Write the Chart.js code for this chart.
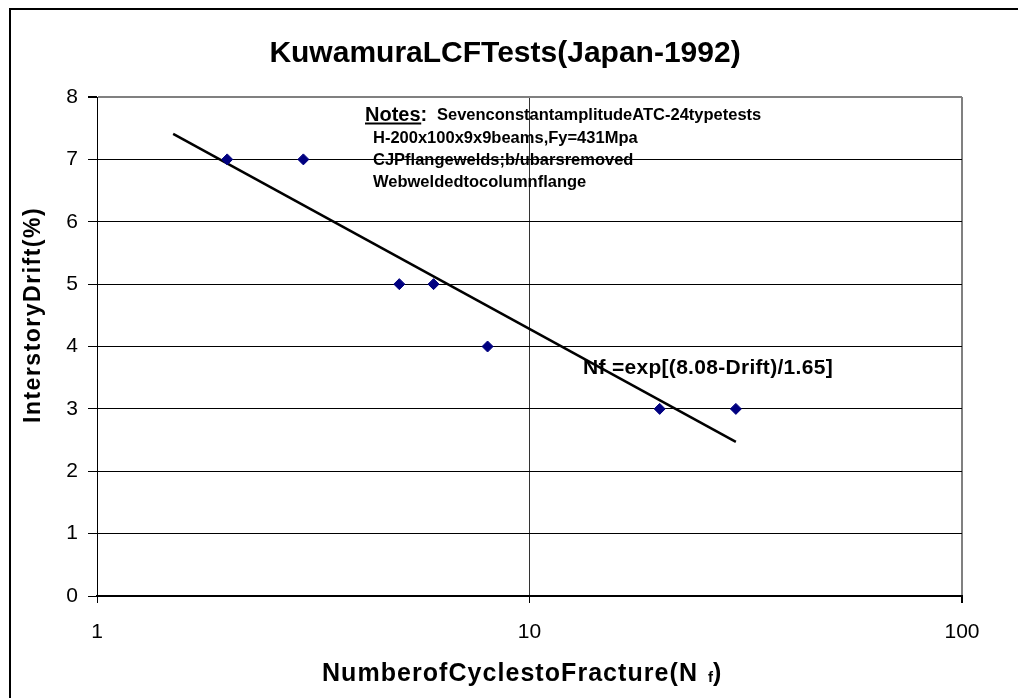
<!DOCTYPE html>
<html>
<head>
<meta charset="utf-8">
<script src="https://cdn.jsdelivr.net/npm/chart.js@4/dist/chart.umd.min.js"></script>
<style>
  html, body { margin: 0; padding: 0; background: #fff; }
  #wrap { width: 1018px; height: 698px; }
</style>
</head>
<body>
<div id="wrap"><canvas id="lcfChart" width="1018" height="698"></canvas></div>
<script>
// test data (Kuwamura 1992)
const cycles = [2, 3, 5, 6, 8, 20, 30];
const drift = [7, 7, 5, 5, 4, 3, 3];

// fitted curve Nf = exp[(8.08-Drift)/1.65], read at its two ends
const fitCycles = [1.5, 30];
const fitDrift = [7.41, 2.47];

const xTicks = [1, 10, 100];
const yMin = 0, yMax = 8;

const chartTitle = 'KuwamuraLCFTests(Japan-1992)';
const xTitle = 'NumberofCyclestoFracture(N';
const yTitle = 'InterstoryDrift(%)';
const notes = [
  'SevenconstantamplitudeATC-24typetests',
  'H-200x100x9x9beams,Fy=431Mpa',
  'CJPflangewelds;b/ubarsremoved',
  'Webweldedtocolumnflange'
];
const equation = 'Nf =exp[(8.08-Drift)/1.65]';

const FONT = '"Liberation Sans", Arial, sans-serif';

function txt(ctx, s, x, y, size, bold, spacing) {
  ctx.font = (bold ? 'bold ' : '') + size + 'px ' + FONT;
  ctx.letterSpacing = (spacing || 0) + 'px';
  ctx.fillText(s, x, y);
  const w = ctx.measureText(s).width;
  ctx.letterSpacing = '0px';
  return w;
}

const decorations = {
  id: 'decorations',
  beforeDraw(chart) {
    const ctx = chart.ctx;
    ctx.save();
    ctx.fillStyle = '#fff';
    ctx.fillRect(0, 0, chart.width, chart.height);
    ctx.strokeStyle = '#000';
    ctx.lineWidth = 2;
    ctx.beginPath();
    ctx.moveTo(10, chart.height + 5);
    ctx.lineTo(10, 9);
    ctx.lineTo(chart.width + 5, 9);
    ctx.stroke();
    ctx.restore();
  },
  afterDraw(chart) {
    const ctx = chart.ctx;
    ctx.save();
    ctx.fillStyle = '#000';
    ctx.textBaseline = 'alphabetic';
    ctx.textAlign = 'left';

    // title
    ctx.font = 'bold 30px ' + FONT;
    const tw = ctx.measureText(chartTitle).width;
    txt(ctx, chartTitle, 505 - tw / 2, 62, 30, true);

    // x axis title with subscript f
    txt(ctx, xTitle, 322, 681, 25, true, 1.05);
    txt(ctx, 'f', 708, 682, 15, true);
    txt(ctx, ')', 713, 681, 25, true);

    // y axis title
    ctx.save();
    ctx.translate(40, 423);
    ctx.rotate(-Math.PI / 2);
    txt(ctx, yTitle, 0, 0, 23, true, 1.5);
    ctx.restore();

    // notes box
    const nw = txt(ctx, 'Notes:', 365, 121, 20, true);
    ctx.fillRect(365, 122.5, nw - 6, 2);
    txt(ctx, notes[0], 437, 120, 16.5, true);
    txt(ctx, notes[1], 373, 143, 16.5, true);
    txt(ctx, notes[2], 373, 165, 16.5, true);
    txt(ctx, notes[3], 373, 187, 16.5, true);

    // equation
    txt(ctx, equation, 583, 374, 21, true, 0.3);
    ctx.restore();
  }
};

const ctx = document.getElementById('lcfChart').getContext('2d');
new Chart(ctx, {
  type: 'scatter',
  data: {
    datasets: [{
      label: 'Tests',
      data: cycles.map((c, i) => ({ x: c, y: drift[i] })),
      pointStyle: 'rectRot',
      pointRadius: 5.5,
      pointHoverRadius: 5.5,
      backgroundColor: '#000080',
      borderColor: '#000080',
      borderWidth: 1,
      showLine: false
    }, {
      label: 'Fit',
      type: 'line',
      data: fitCycles.map((c, i) => ({ x: c, y: fitDrift[i] })),
      borderColor: '#000',
      borderWidth: 2.5,
      pointRadius: 0,
      fill: false
    }]
  },
  options: {
    responsive: false,
    animation: false,
    events: [],
    layout: { padding: { left: 0, right: 56, top: 97, bottom: 0 } },
    plugins: {
      legend: { display: false },
      title: { display: false },
      tooltip: { enabled: false }
    },
    scales: {
      x: {
        type: 'logarithmic',
        min: 1,
        max: 100,
        afterBuildTicks: s => { s.ticks = xTicks.map(v => ({ value: v })); },
        afterFit: s => { s.height = 102; },
        ticks: {
          callback: v => String(v),
          color: '#000',
          font: { family: FONT, size: 21 },
          padding: 17,
          maxRotation: 0,
          autoSkip: false
        },
        grid: {
          color: c => c.tick && c.tick.value === 100 ? '#808080' : (c.tick && c.tick.value === 10 ? '#333' : 'rgba(0,0,0,0)'),
          lineWidth: c => c.tick && c.tick.value === 100 ? 2 : 1,
          tickColor: '#000',
          tickLength: 7,
          drawOnChartArea: true
        },
        border: { color: '#000', width: 2 }
      },
      y: {
        min: yMin,
        max: yMax,
        afterFit: s => { s.width = 97; },
        ticks: {
          stepSize: 1,
          color: '#000',
          font: { family: FONT, size: 21 },
          padding: 10
        },
        grid: {
          color: c => c.tick && c.tick.value === yMax ? '#808080' : '#000',
          lineWidth: c => c.tick && c.tick.value === yMax ? 2 : 1,
          tickColor: '#000',
          tickLength: 9
        },
        border: { color: '#000', width: 1 }
      }
    }
  },
  plugins: [decorations]
});
</script>
</body>
</html>
